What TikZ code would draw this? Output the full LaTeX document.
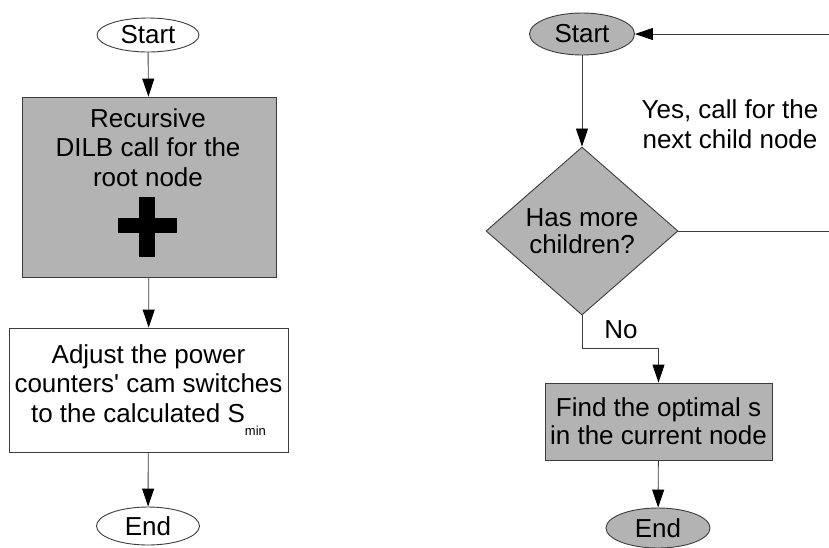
\documentclass[tikz,border=0pt]{standalone}
\usepackage{fontspec}
\setmainfont{Liberation Sans}
\usetikzlibrary{arrows.meta,shapes.geometric}
\definecolor{boxgray}{RGB}{179,179,179}
\definecolor{linegray}{RGB}{60,60,60}
\begin{document}
\begin{tikzpicture}[x=1pt,y=-1pt,
  every node/.style={font=\fontsize{26}{29.5}\selectfont, align=center, text=black},
  term/.style={ellipse, draw=linegray, line width=0.9pt, inner sep=0pt},
  proc/.style={rectangle, draw=linegray, line width=0.9pt, inner sep=0pt},
  decide/.style={diamond, draw=linegray, line width=0.9pt, inner sep=0pt, fill=boxgray},
  conn/.style={draw=linegray, line width=0.9pt},
  arr/.style={conn, -{Triangle[length=18pt,width=12pt,color=black]}}
]
\useasboundingbox (0,0) rectangle (829,547);

% left flow
\node[term, fill=white, minimum width=102pt, minimum height=34pt] (s1) at (148,35) {Start};
\node[proc, fill=boxgray, minimum width=254pt, minimum height=180pt] (rec) at (149,187) {};
\node[anchor=north] (rectext) at (148,105) {Recursive\\DILB call for the\\root node};
\fill[black] (139,197) rectangle (155,257);
\fill[black] (118,218) rectangle (177,233);
\node[proc, fill=white, minimum width=279pt, minimum height=124pt] (adj) at (148.5,390)
  {Adjust the power\\counters\textquotesingle{} cam switches\\to the calculated S\raisebox{-13pt}{\fontsize{13}{13}\selectfont min}};
\node[term, fill=white, minimum width=103pt, minimum height=38pt] (e1) at (148,526) {End};

\draw[arr] (s1) -- (rec);
\draw[arr] (rec) -- (adj);
\draw[arr] (adj) -- (e1);

% right flow
\node[term, fill=boxgray, minimum width=105pt, minimum height=42pt] (s2) at (582,34) {Start};
\node[decide, minimum width=192pt, minimum height=168pt, font=\fontsize{26}{27}\selectfont] (dec) at (582,231) {Has more\\children?};
\node[proc, fill=boxgray, minimum width=227pt, minimum height=77pt, font=\fontsize{26}{28}\selectfont] (find) at (658.5,421.5)
  {Find the optimal s\\in the current node};
\node[term, fill=boxgray, minimum width=104pt, minimum height=40pt] (e2) at (658,528) {End};

\node (yes) at (730,124) {Yes, call for the\\next child node};
\node (no) at (621,330) {No};

\coordinate (rin) at (829,34);
\coordinate (rout) at (829,231);

\draw[arr] (rin) -- (s2.east);
\draw[arr] (s2) -- (dec);
\draw[conn] (dec.east) -- (rout);
\draw[arr] (dec.south) -- ++(0,33) -| (find.north);
\draw[arr] (find) -- (e2);
\end{tikzpicture}
\end{document}
